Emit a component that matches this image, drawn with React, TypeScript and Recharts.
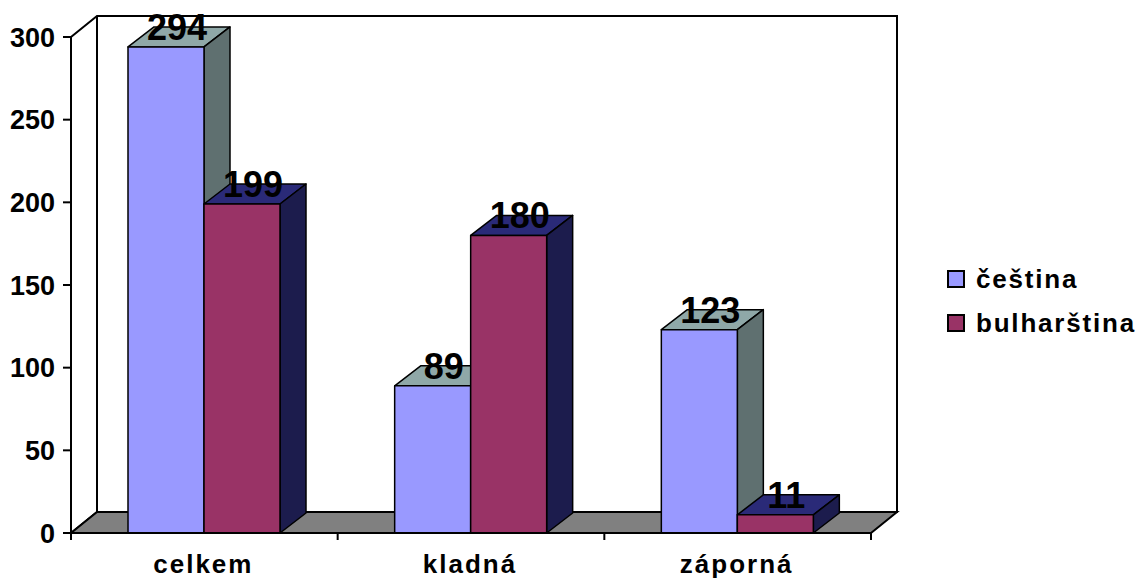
import React from "react";
import { BarChart, Bar, XAxis, YAxis, Legend, LabelList, ReferenceArea } from "recharts";

const categories = ["celkem", "kladná", "záporná"];
const cestina = [294, 89, 123];
const bulharstina = [199, 180, 11];
const yTicks = [0, 50, 100, 150, 200, 250, 300];
const seriesNames = ["čeština", "bulharština"];

const rows = categories.map((name, i) => ({ name, cz: cestina[i], bg: bulharstina[i] }));

const FONT = '"Liberation Sans", Arial, sans-serif';
const DX = 26;
const DY = -21;
const BAR_DY = -20;

const colors = {
  cz: { front: "#9999FF", top: "#8FA8A8", side: "#5F7070" },
  bg: { front: "#993366", top: "#2A2A78", side: "#1C1C4D" },
};

function Box3D(props: any, c: { front: string; top: string; side: string }) {
  const { x, y, width, height } = props;
  const common = { stroke: "#000", strokeWidth: 1.5, strokeLinejoin: "round" as const };
  return (
    <g>
      <polygon
        points={`${x},${y} ${x + DX},${y + BAR_DY} ${x + width + DX},${y + BAR_DY} ${x + width},${y}`}
        fill={c.top}
        {...common}
      />
      <polygon
        points={`${x + width},${y} ${x + width + DX},${y + BAR_DY} ${x + width + DX},${y + height + BAR_DY} ${x + width},${y + height}`}
        fill={c.side}
        {...common}
      />
      <rect x={x} y={y} width={width} height={height} fill={c.front} {...common} />
    </g>
  );
}

function Walls(props: any) {
  const { x, y, width, height } = props;
  const b = y + height;
  const r = x + width;
  const line = { stroke: "#000", strokeWidth: 2, strokeLinejoin: "miter" as const };
  return (
    <g>
      <polygon
        points={`${x},${y} ${x + DX},${y + DY} ${r + DX},${y + DY} ${r + DX},${b + DY} ${x + DX},${b + DY} ${x},${b}`}
        fill="#fff"
        {...line}
      />
      <line x1={x + DX} y1={y + DY} x2={x + DX} y2={b + DY} {...line} />
      <polygon
        points={`${x},${b} ${x + DX},${b + DY} ${r + DX},${b + DY} ${r},${b}`}
        fill="#808080"
        {...line}
      />
    </g>
  );
}

function CategoryTick(props: any) {
  const { x, y, width, index, payload } = props;
  const band = width / categories.length;
  const left = x - band / 2;
  const top = y - 8;
  return (
    <g>
      <line x1={left} y1={top} x2={left} y2={top + 7} stroke="#000" strokeWidth={2} />
      {index === categories.length - 1 && (
        <line x1={left + band} y1={top} x2={left + band} y2={top + 7} stroke="#000" strokeWidth={2} />
      )}
      <text
        x={x - 1}
        y={top + 40}
        textAnchor="middle"
        fontFamily={FONT}
        fontWeight="bold"
        fontSize={26}
        letterSpacing={2}
        fill="#000"
      >
        {payload.value}
      </text>
    </g>
  );
}

function DataLabel(props: any) {
  const { x, y, width, value } = props;
  return (
    <text
      x={x + width / 2 + 11}
      y={y - 7}
      textAnchor="middle"
      fontFamily={FONT}
      fontWeight="bold"
      fontSize={36}
      fill="#000"
    >
      {value}
    </text>
  );
}

function LegendBox(props: any) {
  const items = props.payload || [];
  return (
    <div style={{ fontFamily: FONT, fontWeight: "bold", fontSize: 26, letterSpacing: 1.8, color: "#000" }}>
      {items.map((it: any) => (
        <div key={it.value} style={{ display: "flex", alignItems: "center", height: 44, whiteSpace: "nowrap" }}>
          <span
            style={{
              display: "inline-block",
              boxSizing: "border-box",
              width: 18,
              height: 18,
              background: it.color,
              border: "2px solid #000",
              marginRight: 11,
            }}
          />
          {it.value}
        </div>
      ))}
    </div>
  );
}

export default function App() {
  return (
    <div style={{ width: 1136, height: 579, background: "#fff" }}>
      <style>{"html,body{margin:0;padding:0}"}</style>
      <BarChart
        width={1136}
        height={579}
        data={rows}
        margin={{ top: 37, right: 76, bottom: 0, left: 0 }}
        barCategoryGap={57}
        barGap={0}
      >
        <ReferenceArea y1={0} y2={300} shape={Walls} ifOverflow="visible" />
        <XAxis
          dataKey="name"
          height={46}
          axisLine={{ stroke: "#000", strokeWidth: 2 }}
          tickLine={false}
          interval={0}
          tick={CategoryTick}
        />
        <YAxis
          width={71}
          domain={[0, 300]}
          ticks={yTicks}
          axisLine={{ stroke: "#000", strokeWidth: 2 }}
          tickLine={{ stroke: "#000", strokeWidth: 2 }}
          tickSize={8}
          tickMargin={8}
          tick={{ fontFamily: FONT, fontWeight: "bold", fontSize: 27, fill: "#000" }}
        />
        <Legend
          layout="vertical"
          align="right"
          verticalAlign="top"
          itemSorter={null}
          wrapperStyle={{ left: 947, top: 257, width: 189, right: "auto" }}
          content={LegendBox}
        />
        <Bar
          dataKey="cz"
          name={seriesNames[0]}
          fill={colors.cz.front}
          isAnimationActive={false}
          shape={(p: any) => Box3D(p, colors.cz)}
        >
          <LabelList dataKey="cz" content={DataLabel} />
        </Bar>
        <Bar
          dataKey="bg"
          name={seriesNames[1]}
          fill={colors.bg.front}
          isAnimationActive={false}
          shape={(p: any) => Box3D(p, colors.bg)}
        >
          <LabelList dataKey="bg" content={DataLabel} />
        </Bar>
      </BarChart>
    </div>
  );
}
